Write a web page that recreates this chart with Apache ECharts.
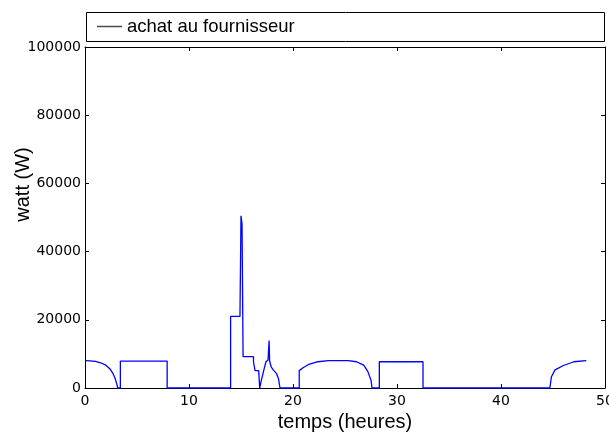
<!DOCTYPE html>
<html>
<head>
<meta charset="utf-8">
<script src="https://cdn.jsdelivr.net/npm/echarts@6/dist/echarts.min.js"></script>
<style>html,body{margin:0;padding:0;background:#fff}#c{width:609px;height:433px}</style>
</head>
<body>
<div id="c"></div>
<script>
var seriesName = 'achat au fournisseur';
var hours = [0,0.5,1,1.5,2,2.4,2.7,2.9,3.05,3.15,
  3.4,3.4,7.9,7.9,
  14.0,14.0,14.9,15.0,15.1,15.2,
  16.2,16.2,16.35,16.35,16.7,16.8,
  16.9,17.2,17.4,17.6,17.7,17.75,17.9,18.1,18.4,18.6,18.7,18.75,
  20.6,20.6,20.75,21.0,21.5,22.4,23.4,25.3,26.1,26.8,27.2,27.5,27.6,
  28.3,28.3,32.5,32.5,
  44.7,44.85,45.2,46.0,47.0,48.2];
var watts = [8000,7950,7800,7400,6700,5600,4200,2800,1200,0,
  0,7900,7900,0,
  0,21000,21000,50500,48000,9200,
  9200,7700,7700,5100,5100,0,
  1500,5300,7700,8200,13900,8000,6200,5300,4300,2800,900,0,
  0,5100,5500,6000,6900,7700,8000,8000,7700,6700,4800,2300,0,
  0,7700,7700,0,
  0,3300,5300,6600,7700,8000];
var xTicks = {min:0, max:50, interval:10};
var yTicks = {min:0, max:100000, interval:20000};

var data = hours.map(function(h,i){return [h, watts[i]];});
var font = 'Liberation Sans';
var tickFont = 'DejaVu Sans';
var chart = echarts.init(document.getElementById('c'), null, {renderer:'canvas'});
var axisCommon = {
  axisLine:{show:true, onZero:false, lineStyle:{color:'#000', width:1}},
  axisTick:{show:true, inside:true, length:4, lineStyle:{color:'#000'}},
  splitLine:{show:false}
};
var plain = function(v){return String(v);};
chart.setOption({
  animation:false,
  textStyle:{fontFamily:font},
  grid:{left:85, right:4, top:47, bottom:45, outerBoundsMode:'none', containLabel:false},
  graphic:[{type:'rect', shape:{x:86.5, y:12.5, width:518, height:29}, style:{fill:'none', stroke:'#000', lineWidth:1}}],
  legend:{left:97, top:17, itemWidth:25, itemHeight:1.5, itemGap:10, icon:'rect', padding:0,
    textStyle:{fontFamily:font, fontSize:18.5, color:'#000'},
    itemStyle:{color:'#4a4a55'},
    data:[seriesName]},
  xAxis:[
    Object.assign({type:'value', min:xTicks.min, max:xTicks.max, interval:xTicks.interval,
      name:'temps (heures)', nameLocation:'middle', nameGap:24, nameMoveOverlap:false,
      nameTextStyle:{fontFamily:font, fontSize:20, color:'#000'},
      axisLabel:{fontFamily:tickFont, fontSize:14, color:'#000', margin:6, formatter:plain}}, axisCommon),
    Object.assign({type:'value', position:'top', min:xTicks.min, max:xTicks.max, interval:xTicks.interval,
      axisLabel:{show:false}}, axisCommon)
  ],
  yAxis:[
    Object.assign({type:'value', min:yTicks.min, max:yTicks.max, interval:yTicks.interval,
      name:'watt (W)', nameLocation:'middle', nameGap:52, nameMoveOverlap:false,
      nameTextStyle:{fontFamily:font, fontSize:20, color:'#000', padding:[0,0,0,66]},
      axisLabel:{fontFamily:tickFont, fontSize:14, color:'#000', margin:4, formatter:plain}}, axisCommon),
    Object.assign({type:'value', position:'right', min:yTicks.min, max:yTicks.max, interval:yTicks.interval,
      axisLabel:{show:false}}, axisCommon)
  ],
  series:[{name:seriesName, type:'line', data:data, showSymbol:false, symbol:'none',
    lineStyle:{color:'#0000ff', width:1.3}, itemStyle:{color:'#0000ff'}}]
});
</script>
</body>
</html>
